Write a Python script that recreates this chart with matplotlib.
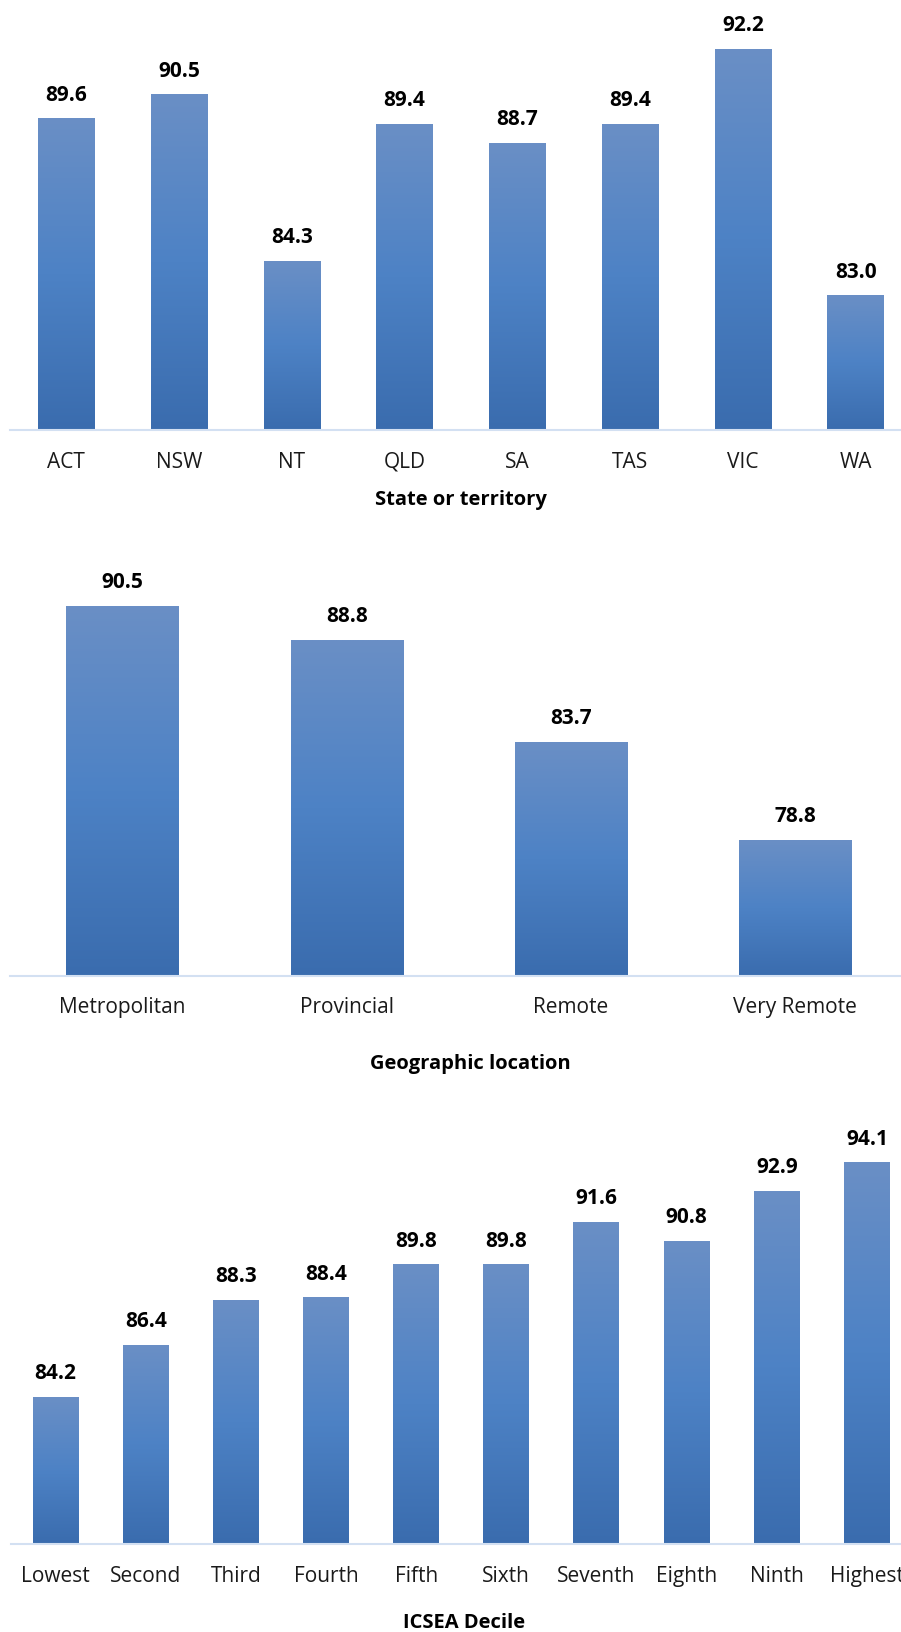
import numpy as np
import matplotlib.pyplot as plt
from matplotlib.colors import LinearSegmentedColormap

# -----------------------------
# Data
# -----------------------------
states = ["ACT", "NSW", "NT", "QLD", "SA", "TAS", "VIC", "WA"]
state_vals = [89.6, 90.5, 84.3, 89.4, 88.7, 89.4, 92.2, 83.0]

locations = ["Metropolitan", "Provincial", "Remote", "Very Remote"]
location_vals = [90.5, 88.8, 83.7, 78.8]

deciles = ["Lowest", "Second", "Third", "Fourth", "Fifth",
           "Sixth", "Seventh", "Eighth", "Ninth", "Highest"]
decile_vals = [84.2, 86.4, 88.3, 88.4, 89.8, 89.8, 91.6, 90.8, 92.9, 94.1]

plt.rcParams["font.family"] = ["Open Sans", "DejaVu Sans"]

# bar fill: darker at the base, lighter at the top
bar_cmap = LinearSegmentedColormap.from_list(
    "bar_grad", [(0.0, "#3A6CAE"), (0.5, "#4D82C5"), (1.0, "#6A8FC6")])
grad = np.linspace(0, 1, 256).reshape(-1, 1)

W, H = 901, 1632
fig = plt.figure(figsize=(W / 100, H / 100), dpi=100)


def panel(rect_px, cats, vals, ylim, width):
    left, top, right, bottom = rect_px
    ax = fig.add_axes([left / W, 1 - bottom / H, (right - left) / W, (bottom - top) / H])
    x = np.arange(len(cats))
    bars = ax.bar(x, vals, width=width, bottom=0, color="none", edgecolor="none")
    for b in bars:
        x0, y0 = b.get_x(), ylim[0]
        ax.imshow(grad, cmap=bar_cmap, origin="lower", aspect="auto",
                  extent=[x0, x0 + b.get_width(), y0, b.get_height()], zorder=2)
        ax.annotate(f"{b.get_height():.1f}", (b.get_x() + b.get_width() / 2, b.get_height()),
                    xytext=(0, 13), textcoords="offset points", ha="center", va="baseline",
                    fontsize=15, fontweight="bold", color="black", annotation_clip=False)
    ax.set_xlim(-0.5, len(cats) - 0.5)
    ax.set_ylim(*ylim)
    ax.set_xticks(x)
    ax.set_xticklabels(cats, fontsize=15, color="#1a1a1a")
    ax.tick_params(axis="x", length=0, pad=15.5)
    ax.set_yticks([])
    for s in ["top", "right", "left"]:
        ax.spines[s].set_visible(False)
    ax.spines["bottom"].set_color("#D3E0F2")
    ax.spines["bottom"].set_linewidth(1.5)
    ax.spines["bottom"].set_zorder(3)
    return ax


panel((10, 1, 912, 430), states, state_vals, (78, 94), 0.5)
panel((10.4, 575.7, 907, 975.7), locations, location_vals, (72, 92), 0.5)
panel((10.5, 1118, 912, 1544), deciles, decile_vals, (78, 96), 0.51)

# axis titles
for label, xc, yb in [("State or territory", 461, 505),
                      ("Geographic location", 470, 1069),
                      ("ICSEA Decile", 464, 1628)]:
    fig.text(xc / W, 1 - yb / H, label, ha="center", va="baseline",
             fontsize=14.5, fontweight="bold", color="black")

fig.savefig("out.png", dpi=100)
